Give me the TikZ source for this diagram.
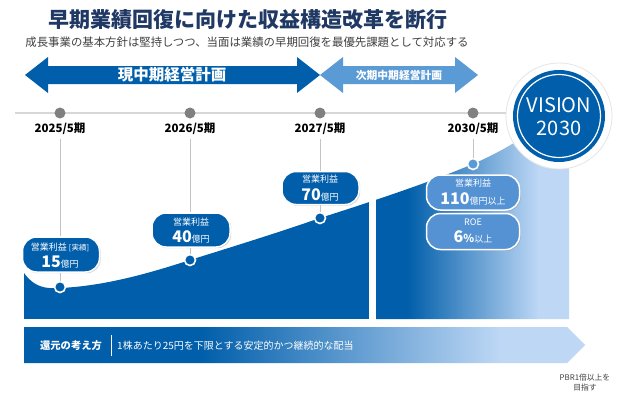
\documentclass[tikz,border=0pt]{standalone}
\usepackage{fontspec}
\setmainfont{Noto Sans CJK JP}
\usetikzlibrary{shadows}
\definecolor{vdark}{RGB}{0,94,170}
\definecolor{vmid}{RGB}{91,155,213}
\definecolor{cmid}{RGB}{84,146,212}
\definecolor{vlight}{RGB}{189,215,245}
\definecolor{navy}{RGB}{31,56,100}
\definecolor{dotgray}{RGB}{128,128,128}
\definecolor{linegray}{RGB}{215,215,215}
\definecolor{conngray}{RGB}{195,195,195}
\definecolor{subgray}{RGB}{64,64,64}
\pgfdeclarehorizontalshading{rpanel}{100bp}{color(0bp)=(vdark); color(33bp)=(vdark); color(67bp)=(vlight); color(100bp)=(vlight)}
\pgfdeclarehorizontalshading{barshade}{100bp}{color(0bp)=(vdark); color(40.7bp)=(vdark); color(67.4bp)=(vlight); color(100bp)=(vlight)}
\tikzset{
  tdot/.style={circle, fill=dotgray, minimum size=11pt, inner sep=0pt},
  ylabel/.style={font=\fontsize{11.5}{12}\selectfont\bfseries, text=black, inner sep=0pt},
  conn/.style={draw=conngray, line width=0.8pt},
  ptdark/.style={circle, fill=vdark, draw=white, line width=1.6pt, minimum size=11pt, inner sep=0pt},
  ptmid/.style={circle, fill=vmid, draw=white, line width=1.6pt, minimum size=11pt, inner sep=0pt},
  cbox/.style={rectangle, rounded corners=14pt, draw=white, line width=1.5pt, inner sep=0pt,
     drop shadow={opacity=0.35, shadow xshift=1.2pt, shadow yshift=-1.2pt}},
  ctop/.style={font=\fontsize{9}{10}\selectfont, text=white, inner sep=0pt},
  cbot/.style={font=\fontsize{9}{10}\selectfont, text=white, inner sep=0pt},
}
\begin{document}
\begin{tikzpicture}[x=1pt,y=-1pt]
\useasboundingbox (0,0) rectangle (623,400);
\fill[white] (0,0) rectangle (623,400);

% title
\node[font=\fontsize{21}{22}\selectfont\bfseries, text=navy, inner sep=0pt] (title) at (248,20) {早期業績回復に向けた収益構造改革を断行};
\node[font=\fontsize{11.4}{12}\selectfont, text=subgray, inner sep=0pt] (sub) at (247,42) {成長事業の基本方針は堅持しつつ、当面は業績の早期回復を最優先課題として対応する};

% plan arrows
\fill[vdark] (25,75) -- (48,57) -- (48,66) -- (297,66) -- (297,57) -- (320,75) -- (297,93) -- (297,84) -- (48,84) -- (48,93) -- cycle;
\node[font=\fontsize{15.5}{16}\selectfont\bfseries, text=white, inner sep=0pt] (plan1) at (172,75) {現中期経営計画};
\fill[vmid] (320,75) -- (343,57) -- (343,66) -- (455,66) -- (455,57) -- (478,75) -- (455,93) -- (455,84) -- (343,84) -- (343,93) -- cycle;
\node[font=\fontsize{10.8}{11}\selectfont\bfseries, text=white, inner sep=0pt] (plan2) at (399,75) {次期中期経営計画};

% area
\begin{scope}
\clip (24,319) -- (24,273) .. controls (34,287) and (45,289) .. (60,288)
  .. controls (105,286) and (150,273) .. (190,260)
  .. controls (235,246) and (280,232) .. (320,218)
  .. controls (380,199) and (430,182) .. (473,164)
  .. controls (510,148) and (545,125) .. (569,100)
  -- (569,319) -- cycle;
\fill[vdark] (24,60) rectangle (369,319);
\shade[shading=rpanel] (376,60) rectangle (569,319);
\end{scope}

% timeline
\draw[linegray, line width=2pt] (15,113) -- (515,113);
\node[tdot] (d1) at (60,113) {};
\node[tdot] (d2) at (190,113) {};
\node[tdot] (d3) at (320,113) {};
\node[tdot] (d4) at (473,113) {};
\node[ylabel] (y1) at (60,129) {2025/5期};
\node[ylabel] (y2) at (190,129) {2026/5期};
\node[ylabel] (y3) at (320,129) {2027/5期};
\node[ylabel] (y4) at (473,129) {2030/5期};

% callout boxes
\node[cbox, fill=vdark, minimum width=77pt, minimum height=35pt] (cb1) at (61,254.5) {};
\node[cbox, fill=vdark, minimum width=78pt, minimum height=34pt] (cb2) at (191,230) {};
\node[cbox, fill=vdark, minimum width=77pt, minimum height=33pt] (cb3) at (320.5,188) {};
\node[cbox, fill=cmid, minimum width=93pt, minimum height=35pt] (cb4) at (473,192.5) {};
\node[cbox, fill=cmid, minimum width=93pt, minimum height=36pt] (cb5) at (473,231.5) {};

% points
\node[ptdark] (p1) at (60,287) {};
\node[ptdark] (p2) at (190,260) {};
\node[ptdark] (p3) at (320,218) {};
\node[ptmid] (p4) at (473,164) {};

% connectors
\draw[conn] (y1.south) ++(0,4) -- (cb1.north -| p1);
\draw[conn] (cb1.south -| p1) -- (p1.north);
\draw[conn] (y2.south) ++(0,4) -- (cb2.north -| p2);
\draw[conn] (cb2.south -| p2) -- (p2.north);
\draw[conn] (y3.south) ++(0,4) -- (cb3.north -| p3);
\draw[conn] (cb3.south -| p3) -- (p3.north);
\draw[conn] (y4.south) ++(0,4) -- (p4.north);

% callout texts
\node[ctop] (c1a) at (60,247) {営業利益 {\fontsize{7.5}{8}\selectfont [実績]}};
\node[cbot] (c1b) at (60,262) {{\fontsize{16}{16}\selectfont\bfseries 15}億円};
\node[ctop] (c2a) at (191,222) {営業利益};
\node[cbot] (c2b) at (191,237) {{\fontsize{16}{16}\selectfont\bfseries 40}億円};
\node[ctop] (c3a) at (320,179) {営業利益};
\node[cbot] (c3b) at (320,195) {{\fontsize{16}{16}\selectfont\bfseries 70}億円};
\node[ctop] (c4a) at (473,183) {営業利益};
\node[cbot] (c4b) at (473,199) {{\fontsize{16}{16}\selectfont\bfseries 110}億円以上};
\node[ctop] (c5a) at (473,222) {ROE};
\node[cbot] (c5b) at (473,237) {{\fontsize{16}{16}\selectfont\bfseries 6}{\fontsize{11}{11}\selectfont\bfseries \%}以上};

% vision circle
\node[circle, fill=white, draw=black!10, line width=0.8pt, minimum size=106pt, inner sep=0pt] (vring) at (559,116) {};
\node[circle, fill=vdark, minimum size=92pt, inner sep=0pt] (vis) at (559,116) {};
\draw[white, line width=1.2pt] (vis.center) circle (41.5pt);
\node[font=\fontsize{20}{20}\selectfont, text=white, inner sep=0pt] (v1) at (559,105) {VISION};
\node[font=\fontsize{20}{20}\selectfont, text=white, inner sep=0pt] (v2) at (559,128) {2030};

% bottom bar
\shade[shading=barshade] (24,327) -- (567,327) -- (585,345) -- (567,363) -- (24,363) -- cycle;
\node[font=\fontsize{10.3}{11}\selectfont\bfseries, text=white, inner sep=0pt] (ret) at (71,346) {還元の考え方};
\draw[white, line width=0.6pt] (111,335) -- (111,356);
\node[anchor=west, font=\fontsize{10}{11}\selectfont, text=white, inner sep=0pt] (div) at (117,346) {1株あたり25円を下限とする安定的かつ継続的な配当};

\node[align=center, font=\fontsize{7.8}{10}\selectfont, text=subgray, inner sep=0pt] (pbr) at (585,383) {PBR1倍以上を\\目指す};
\end{tikzpicture}
\end{document}
